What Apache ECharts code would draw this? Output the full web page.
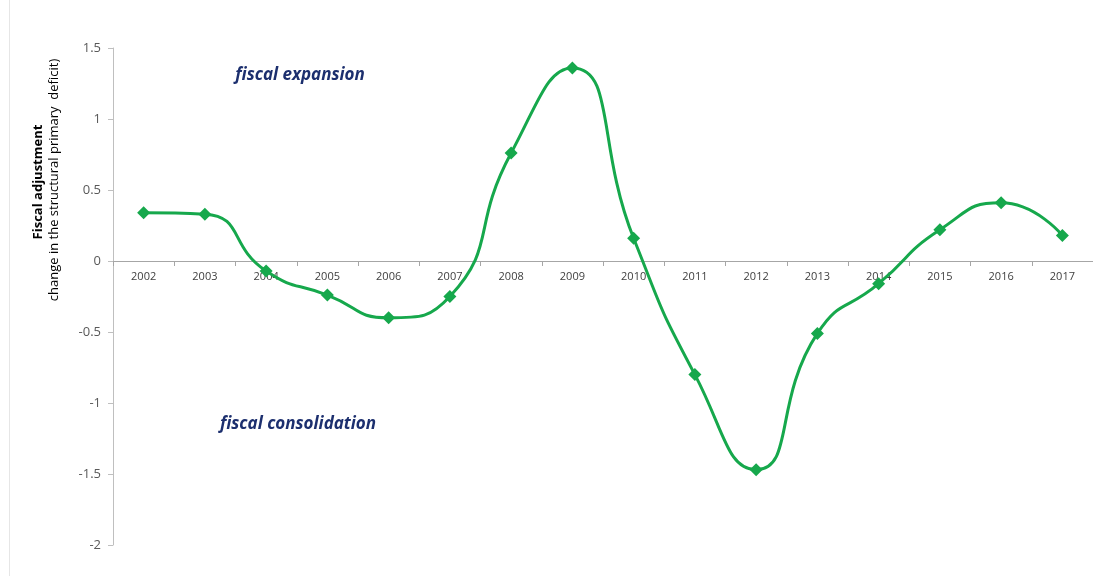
<!DOCTYPE html>
<html><head><meta charset="utf-8">
<script src="https://cdn.jsdelivr.net/npm/echarts@6/dist/echarts.min.js"></script>
<style>html,body{margin:0;padding:0;background:#fff;}#c{width:1093px;height:576px;}</style>
</head><body><div id="c"></div>
<script>
const years = ['2002','2003','2004','2005','2006','2007','2008','2009','2010','2011','2012','2013','2014','2015','2016','2017'];
const adjustment = [0.34, 0.33, -0.07, -0.24, -0.40, -0.25, 0.76, 1.36, 0.16, -0.80, -1.47, -0.51, -0.16, 0.22, 0.41, 0.18];
const yTicks = {min: -2, max: 1.5, interval: 0.5};
const titleLine1 = 'Fiscal adjustment';
const titleLine2 = 'change in the structural primary  deficit)';
const noteTop = 'fiscal expansion';
const noteBottom = 'fiscal consolidation';

const chart = echarts.init(document.getElementById('c'));
chart.setOption({
  animation: false,
  grid: {left: 113, right: -9, top: 48, bottom: 31, containLabel: false},
  xAxis: {
    type: 'category', data: years, boundaryGap: true, position: 'bottom', offset: -284,
    axisLine: {onZero: false, lineStyle: {color: '#a6a6a6', width: 1}},
    axisTick: {show: true, length: 5, lineStyle: {color: '#a6a6a6'}},
    axisLabel: {color: '#404040', fontSize: 11, fontFamily: 'Open Sans', margin: 10}
  },
  yAxis: {
    type: 'value', min: yTicks.min, max: yTicks.max, interval: yTicks.interval,
    splitLine: {show: false},
    axisLine: {show: true, lineStyle: {color: '#bfbfbf', width: 1}},
    axisTick: {show: true, length: 5, lineStyle: {color: '#bfbfbf'}},
    axisLabel: {color: '#595959', fontSize: 13, fontFamily: 'Open Sans', margin: 12,
      formatter: v => String(v)}
  },
  series: [{
    type: 'line', data: adjustment, smooth: 0.55,
    symbol: 'diamond', symbolSize: 13,
    lineStyle: {color: '#16a84c', width: 3},
    itemStyle: {color: '#16a84c'}
  }],
  graphic: [
    {type: 'rect', left: 9, top: 0, shape: {width: 1, height: 576}, style: {fill: '#e6e6e6'}},
    {type: 'text', x: 38, y: 182, rotation: Math.PI/2, style: {
      text: titleLine1, font: 'bold 13px "Open Sans"', fill: '#000', align: 'center', verticalAlign: 'middle'}},
    {type: 'text', x: 54, y: 180, rotation: Math.PI/2, style: {
      text: titleLine2, font: '13px "Open Sans"', fill: '#000', align: 'center', verticalAlign: 'middle'}},
    {type: 'text', x: 300, y: 75, style: {
      text: noteTop, font: 'italic bold 17px "Open Sans"', fill: '#1c2f6e', align: 'center', verticalAlign: 'middle'}},
    {type: 'text', x: 298, y: 424, style: {
      text: noteBottom, font: 'italic bold 17px "Open Sans"', fill: '#1c2f6e', align: 'center', verticalAlign: 'middle'}}
  ]
});
</script></body></html>
